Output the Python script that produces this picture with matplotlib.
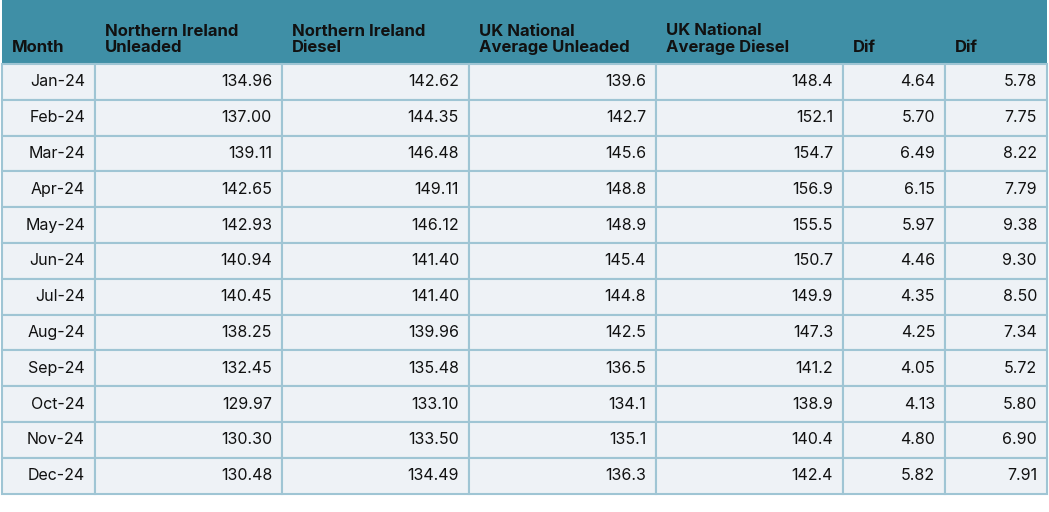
import matplotlib.pyplot as plt
from matplotlib.patches import Rectangle

headers = ["Month", "Northern Ireland\nUnleaded", "Northern Ireland\nDiesel",
           "UK National\nAverage Unleaded", "UK National\nAverage Diesel", "Dif", "Dif"]
months = ["Jan-24", "Feb-24", "Mar-24", "Apr-24", "May-24", "Jun-24",
          "Jul-24", "Aug-24", "Sep-24", "Oct-24", "Nov-24", "Dec-24"]
ni_unleaded = ["134.96", "137.00", "139.11", "142.65", "142.93", "140.94",
               "140.45", "138.25", "132.45", "129.97", "130.30", "130.48"]
ni_diesel = ["142.62", "144.35", "146.48", "149.11", "146.12", "141.40",
             "141.40", "139.96", "135.48", "133.10", "133.50", "134.49"]
uk_unleaded = ["139.6", "142.7", "145.6", "148.8", "148.9", "145.4",
               "144.8", "142.5", "136.5", "134.1", "135.1", "136.3"]
uk_diesel = ["148.4", "152.1", "154.7", "156.9", "155.5", "150.7",
             "149.9", "147.3", "141.2", "138.9", "140.4", "142.4"]
dif_unleaded = ["4.64", "5.70", "6.49", "6.15", "5.97", "4.46",
                "4.35", "4.25", "4.05", "4.13", "4.80", "5.82"]
dif_diesel = ["5.78", "7.75", "8.22", "7.79", "9.38", "9.30",
              "8.50", "7.34", "5.72", "5.80", "6.90", "7.91"]

cols = [months, ni_unleaded, ni_diesel, uk_unleaded, uk_diesel, dif_unleaded, dif_diesel]
edges = [2, 95, 282, 469, 656, 843, 945, 1047]
head_top, head_bot, row_h = 0, 64, 35.8

plt.rcParams['font.family'] = ['Inter', 'DejaVu Sans']
fig = plt.figure(figsize=(10.49, 5.12), dpi=100)
ax = fig.add_axes([0, 0, 1, 1])
ax.set_xlim(0, 1049)
ax.set_ylim(512, 0)
ax.axis('off')

header_col = '#3f8fa6'
cell_col = '#eef2f6'
line_col = '#9fc5d4'

ax.add_patch(Rectangle((edges[0], head_top), edges[-1] - edges[0], head_bot - head_top,
                       facecolor=header_col, edgecolor='none'))
for i, h in enumerate(headers):
    ax.text(edges[i] + 10, head_bot - 9, h, ha='left', va='bottom',
            fontsize=12, fontweight='bold', color='#111111', linespacing=1.1)

for r in range(len(months)):
    y = head_bot + r * row_h
    for c in range(len(cols)):
        ax.add_patch(Rectangle((edges[c], y), edges[c + 1] - edges[c], row_h,
                               facecolor=cell_col, edgecolor=line_col, linewidth=1.5))
        ax.text(edges[c + 1] - 10, y + row_h / 2, cols[c][r], ha='right', va='center',
                fontsize=11.5, color='#111111')

fig.savefig('out.png', dpi=100, facecolor='white')
